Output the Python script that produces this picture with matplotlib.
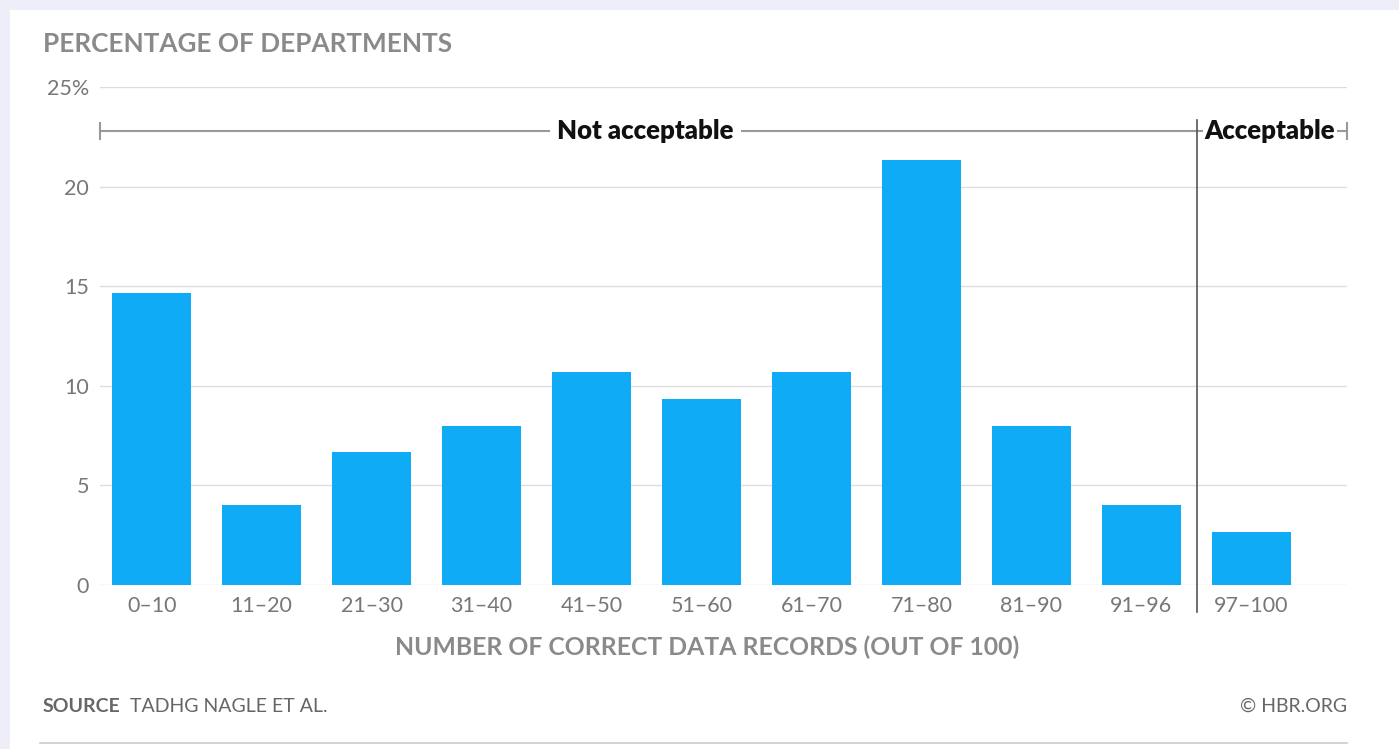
import matplotlib.pyplot as plt
from matplotlib.patches import Rectangle

# data: share of departments per score bucket
categories = ["0–10", "11–20", "21–30", "31–40", "41–50", "51–60",
              "61–70", "71–80", "81–90", "91–96", "97–100"]
percentages = [14.67, 4.0, 6.67, 8.0, 10.67, 9.33, 10.67, 21.33, 8.0, 4.0, 2.67]
yticks = [0, 5, 10, 15, 20, 25]
ytick_labels = ["0", "5", "10", "15", "20", "25%"]

plt.rcParams["font.family"] = ["Lato", "DejaVu Sans"]

fig = plt.figure(figsize=(13.99, 7.49), dpi=100)
fig.patch.set_facecolor("#eeeef8")
# white card
fig.patches.append(Rectangle((10 / 1399, 0), 1 - 10 / 1399, 1 - 10 / 749,
                             transform=fig.transFigure, facecolor="white",
                             edgecolor="none", zorder=-5))

ax = fig.add_axes([100 / 1399, 1 - 585 / 749, 1247 / 1399, 498 / 749])
ax.set_facecolor("white")

x = list(range(len(categories)))
ax.bar(x, percentages, width=0.72, color="#0fabf6", zorder=2)

ax.set_xlim(-0.47, 10.87)
ax.set_ylim(0, 25)
ax.set_yticks(yticks)
ax.set_yticklabels(ytick_labels)
ax.set_xticks(x)
ax.set_xticklabels(categories)
ax.tick_params(axis="both", length=0, labelsize=15.5, labelcolor="#777777")
ax.tick_params(axis="y", pad=8)
ax.tick_params(axis="x", pad=8)
ax.grid(axis="y", color="#dddddd", linewidth=1, zorder=0)
for s in ax.spines.values():
    s.set_visible(False)

# acceptable / not acceptable bracket
yb = 22.8
ax.plot([-0.47, 10.87], [yb, yb], color="#999999", lw=1.5, zorder=3, clip_on=False)
ax.plot([-0.47, -0.47], [yb - 0.4, yb + 0.4], color="#999999", lw=1.5, clip_on=False)
ax.plot([10.87, 10.87], [yb - 0.4, yb + 0.4], color="#999999", lw=1.5, clip_on=False)
ax.plot([9.51, 9.51], [-1.35, yb + 0.55], color="#555555", lw=1.2, zorder=3, clip_on=False)
ax.text(4.49, yb, "Not acceptable", ha="center", va="center", fontsize=18.5,
        fontweight="heavy", color="#111111", zorder=4,
        bbox=dict(facecolor="white", edgecolor="none", pad=5))
ax.text(10.17, yb, "Acceptable", ha="center", va="center", fontsize=18.5,
        fontweight="heavy", color="#111111", zorder=4,
        bbox=dict(facecolor="white", edgecolor="none", pad=1))

# titles
fig.text(43 / 1399, 1 - 44 / 749, "PERCENTAGE OF DEPARTMENTS", ha="left", va="center",
         fontsize=18.8, fontweight="bold", color="#8a8a8a")
fig.text(707 / 1399, 1 - 647 / 749, "NUMBER OF CORRECT DATA RECORDS (OUT OF 100)",
         ha="center", va="center", fontsize=17.8, fontweight="bold", color="#8a8a8a")

# footer
fig.text(43 / 1399, 1 - 706 / 749, "SOURCE", ha="left", va="center",
         fontsize=14, fontweight="bold", color="#666666")
fig.text(130 / 1399, 1 - 706 / 749, "TADHG NAGLE ET AL.", ha="left", va="center",
         fontsize=14, color="#666666")
fig.text(1347 / 1399, 1 - 706 / 749, "© HBR.ORG", ha="right", va="center",
         fontsize=14, color="#666666")
fig.add_artist(plt.Line2D([40 / 1399, 1347 / 1399], [1 - 743 / 749, 1 - 743 / 749],
                          color="#cccccc", lw=1.2))

fig.savefig("out.png", dpi=100, facecolor=fig.get_facecolor())
